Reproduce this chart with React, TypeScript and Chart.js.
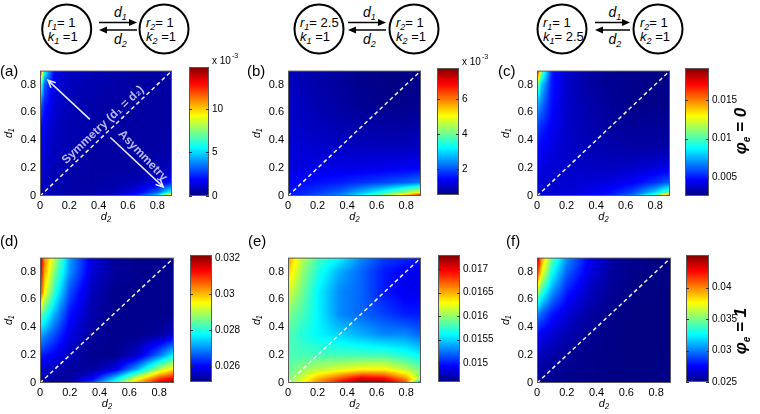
import React, { useEffect, useRef } from "react";
import { Chart, registerables } from "chart.js";

Chart.register(...registerables);

const FONT = '"Liberation Sans", Arial, Helvetica, sans-serif';

// ---------- grid coordinates (data space) ----------
const D2_GRID = [0, 0.03, 0.1, 0.2, 0.35, 0.5, 0.65, 0.8, 0.9]; // columns, left -> right
const D1_GRID = [0.9, 0.8, 0.65, 0.5, 0.35, 0.2, 0.1, 0.03, 0]; // rows, top -> bottom
const AXIS_TICKS = [0, 0.2, 0.4, 0.6, 0.8];
const DIAGONAL = [0, 0.9];

// ---------- values ----------
// (a) phi_e = 0, r1 = 1, k1 = 1   (x 10^-3)
const VALUES_A = [
  [14.2, 6.0, 1.6, 1.0, 0.8, 0.6, 0.5, 0.5, 0.5],
  [8.0, 3.2, 1.4, 0.9, 0.7, 0.6, 0.5, 0.5, 0.5],
  [3.5, 2.2, 1.2, 0.8, 0.6, 0.5, 0.5, 0.5, 0.5],
  [2.0, 1.6, 1.0, 0.7, 0.6, 0.5, 0.5, 0.5, 0.5],
  [1.5, 1.3, 0.9, 0.7, 0.5, 0.5, 0.5, 0.5, 0.6],
  [1.2, 1.1, 0.8, 0.6, 0.5, 0.5, 0.5, 0.7, 0.9],
  [1.0, 1.0, 0.7, 0.6, 0.5, 0.6, 0.8, 1.4, 2.2],
  [1.0, 0.9, 0.7, 0.6, 0.6, 0.8, 1.5, 3.2, 6.0],
  [1.0, 0.9, 0.7, 0.6, 0.7, 1.0, 2.2, 5.5, 12.5],
];
// (b) phi_e = 0, r1 = 2.5   (x 10^-3)
const VALUES_B = [
  [0.9, 0.9, 0.85, 0.8, 0.7, 0.6, 0.55, 0.55, 0.6],
  [0.95, 0.95, 0.9, 0.8, 0.7, 0.6, 0.55, 0.55, 0.6],
  [1.0, 1.0, 0.95, 0.85, 0.75, 0.65, 0.6, 0.6, 0.65],
  [1.05, 1.05, 1.0, 0.95, 0.85, 0.8, 0.75, 0.75, 0.8],
  [1.1, 1.1, 1.1, 1.05, 1.0, 0.95, 0.95, 0.95, 1.0],
  [1.2, 1.2, 1.2, 1.25, 1.25, 1.25, 1.3, 1.35, 1.4],
  [1.4, 1.4, 1.45, 1.5, 1.6, 1.75, 1.9, 2.1, 2.3],
  [1.5, 1.55, 1.65, 1.8, 2.1, 2.7, 3.4, 4.3, 5.0],
  [1.5, 1.6, 1.7, 2.0, 2.5, 3.4, 4.7, 6.3, 7.5],
];
// (c) phi_e = 0, k1 = 2.5
const VALUES_C = [
  [0.0185, 0.011, 0.005, 0.0038, 0.0032, 0.0029, 0.0028, 0.0027, 0.0027],
  [0.011, 0.008, 0.005, 0.0038, 0.0032, 0.0029, 0.0028, 0.0027, 0.0027],
  [0.0075, 0.0065, 0.0048, 0.0038, 0.0033, 0.003, 0.0028, 0.0028, 0.0028],
  [0.0058, 0.0053, 0.0045, 0.0038, 0.0034, 0.0031, 0.003, 0.003, 0.003],
  [0.0048, 0.0046, 0.0042, 0.0038, 0.0035, 0.0033, 0.0032, 0.0032, 0.0033],
  [0.0042, 0.0041, 0.004, 0.0038, 0.0037, 0.0037, 0.0038, 0.0041, 0.0044],
  [0.004, 0.004, 0.0039, 0.0039, 0.004, 0.0042, 0.0046, 0.0054, 0.0062],
  [0.0039, 0.0039, 0.0039, 0.004, 0.0043, 0.0048, 0.0058, 0.008, 0.0105],
  [0.0039, 0.0039, 0.0039, 0.0041, 0.0045, 0.0052, 0.0068, 0.011, 0.018],
];
// (d) phi_e = 1, r1 = 1, k1 = 1
const VALUES_D = [
  [0.032, 0.0304, 0.029, 0.0271, 0.0258, 0.0253, 0.0252, 0.0252, 0.0252],
  [0.0318, 0.0302, 0.0286, 0.027, 0.0257, 0.0253, 0.0252, 0.0252, 0.0252],
  [0.0312, 0.0296, 0.028, 0.0265, 0.0255, 0.0252, 0.0252, 0.0252, 0.0252],
  [0.0286, 0.0282, 0.0272, 0.0261, 0.0254, 0.0252, 0.0252, 0.0252, 0.0252],
  [0.0272, 0.027, 0.0265, 0.0258, 0.0253, 0.0252, 0.0252, 0.0253, 0.0256],
  [0.0262, 0.0261, 0.0259, 0.0255, 0.0252, 0.0252, 0.0256, 0.0268, 0.0278],
  [0.0257, 0.0256, 0.0255, 0.0253, 0.0253, 0.0258, 0.0272, 0.029, 0.0298],
  [0.0254, 0.0254, 0.0253, 0.0253, 0.026, 0.0275, 0.0295, 0.031, 0.0315],
  [0.0253, 0.0253, 0.0253, 0.0255, 0.0265, 0.0282, 0.0302, 0.0315, 0.0321],
];
// (e) phi_e = 1, r1 = 2.5
const VALUES_E = [
  [0.0166, 0.0164, 0.0161, 0.0158, 0.0156, 0.0153, 0.0151, 0.01505, 0.015],
  [0.0164, 0.0163, 0.016, 0.0157, 0.0154, 0.0152, 0.015, 0.0149, 0.0149],
  [0.0162, 0.0161, 0.0159, 0.0156, 0.0153, 0.0152, 0.015, 0.0149, 0.0149],
  [0.016, 0.0159, 0.0158, 0.0156, 0.0153, 0.0152, 0.0151, 0.015, 0.015],
  [0.0158, 0.0158, 0.0157, 0.0156, 0.0155, 0.0154, 0.0153, 0.0153, 0.0152],
  [0.0158, 0.0158, 0.0158, 0.0158, 0.0158, 0.0158, 0.0158, 0.0157, 0.0156],
  [0.0159, 0.0159, 0.016, 0.0161, 0.0162, 0.0163, 0.0163, 0.0161, 0.0159],
  [0.016, 0.016, 0.0162, 0.0165, 0.0168, 0.0171, 0.017, 0.0166, 0.016],
  [0.016, 0.0161, 0.0163, 0.0166, 0.017, 0.0173, 0.0173, 0.0168, 0.0148],
];
// (f) phi_e = 1, k1 = 2.5
const VALUES_F = [
  [0.0448, 0.04, 0.0345, 0.0305, 0.0275, 0.0258, 0.0253, 0.0251, 0.0251],
  [0.0425, 0.038, 0.033, 0.0295, 0.027, 0.0256, 0.0252, 0.0251, 0.0251],
  [0.036, 0.0335, 0.0305, 0.028, 0.0263, 0.0254, 0.0251, 0.025, 0.025],
  [0.0305, 0.0295, 0.028, 0.0268, 0.0257, 0.0252, 0.025, 0.025, 0.025],
  [0.0275, 0.0272, 0.0266, 0.026, 0.0254, 0.0251, 0.025, 0.025, 0.025],
  [0.0262, 0.0261, 0.0258, 0.0255, 0.0252, 0.0251, 0.025, 0.025, 0.0251],
  [0.0257, 0.0256, 0.0255, 0.0253, 0.0252, 0.0251, 0.025, 0.0251, 0.0252],
  [0.0255, 0.0255, 0.0254, 0.0253, 0.0252, 0.0251, 0.0251, 0.0252, 0.0253],
  [0.0255, 0.0255, 0.0254, 0.0253, 0.0252, 0.0251, 0.0251, 0.0252, 0.0253],
];

// ---------- colour bar ranges and ticks ----------
const RANGE_A = [0, 14.8];
const RANGE_B = [0.5, 7.8];
const RANGE_C = [0.0026, 0.0191];
const RANGE_D = [0.0251, 0.0322];
const RANGE_E = [0.0146, 0.0173];
const RANGE_F = [0.025, 0.0452];

const CB_TICKS_A = [0, 5, 10];
const CB_TICKS_B = [2, 4, 6];
const CB_TICKS_C = [0.005, 0.01, 0.015];
const CB_TICKS_D = [0.026, 0.028, 0.03, 0.032];
const CB_TICKS_E = [0.015, 0.0155, 0.016, 0.0165, 0.017];
const CB_TICKS_F = [0.025, 0.03, 0.035, 0.04];

const CB_LABELS_A = ["0", "5", "10"];
const CB_LABELS_B = ["2", "4", "6"];
const CB_LABELS_C = ["0.005", "0.01", "0.015"];
const CB_LABELS_D = ["0.026", "0.028", "0.03", "0.032"];
const CB_LABELS_E = ["0.015", "0.0155", "0.016", "0.0165", "0.017"];
const CB_LABELS_F = ["0.025", "0.03", "0.035", "0.04"];

// annotation geometry for panel (a), data coords: [tail, head]
const SYM_ARROW_D2 = [0.34, 0.055];
const SYM_ARROW_D1 = [0.55, 0.83];
const ASYM_ARROW_D2 = [0.48, 0.84];
const ASYM_ARROW_D1 = [0.42, 0.065];
const SYM_TEXT_AT = [0.43, 0.51];
const ASYM_TEXT_AT = [0.7, 0.29];

// ---------- layout ----------
const PLOT_H = 128;
const Y_AXIS_W = 40;
const X_AXIS_H = 28;
const PAD_T = 8;
const PAD_R = 4;
const CB_AXIS_W = 46;
const CB_PAD_T = 18;
const CB_PAD_B = 8;

type Panel = {
  values: number[][];
  range: number[];
  cbTicks: number[];
  cbLabels: string[];
  exp: boolean;
  annotate: boolean;
  plot: number[]; // x, y, w
  cb: number[]; // x, y, w, h
};

const PANELS: Panel[] = [
  { values: VALUES_A, range: RANGE_A, cbTicks: CB_TICKS_A, cbLabels: CB_LABELS_A, exp: true, annotate: true, plot: [40, 68, 132], cb: [189, 67, 20, 130] },
  { values: VALUES_B, range: RANGE_B, cbTicks: CB_TICKS_B, cbLabels: CB_LABELS_B, exp: true, annotate: false, plot: [288, 68, 133], cb: [437, 68, 22, 128] },
  { values: VALUES_C, range: RANGE_C, cbTicks: CB_TICKS_C, cbLabels: CB_LABELS_C, exp: false, annotate: false, plot: [537, 68, 133], cb: [685, 68, 24, 129] },
  { values: VALUES_D, range: RANGE_D, cbTicks: CB_TICKS_D, cbLabels: CB_LABELS_D, exp: false, annotate: false, plot: [40, 255, 134], cb: [190, 255, 22, 128] },
  { values: VALUES_E, range: RANGE_E, cbTicks: CB_TICKS_E, cbLabels: CB_LABELS_E, exp: false, annotate: false, plot: [288, 255, 133], cb: [438, 255, 22, 128] },
  { values: VALUES_F, range: RANGE_F, cbTicks: CB_TICKS_F, cbLabels: CB_LABELS_F, exp: false, annotate: false, plot: [537, 255, 134], cb: [686, 255, 23, 128] },
];

const PANEL_LETTERS = [
  { t: "(a)", x: 0, y: 63 },
  { t: "(b)", x: 247, y: 63 },
  { t: "(c)", x: 498, y: 63 },
  { t: "(d)", x: 0, y: 233 },
  { t: "(e)", x: 248, y: 233 },
  { t: "(f)", x: 506, y: 233 },
];

const DIAGRAMS = [
  { lc: 66.7, rc: 164, a0: 99, a1: 137, r1: "= 1", k1: " =1", r2: "= 1", k2: " =1" },
  { lc: 319, rc: 414, a0: 348, a1: 386, r1: "= 2.5", k1: " =1", r2: "= 1", k2: " =1" },
  { lc: 562, rc: 658, a0: 595, a1: 630, r1: "= 1", k1: "= 2.5", r2: "= 1", k2: " =1" },
];

// ---------- helpers ----------
const clamp = (v: number, a: number, b: number) => Math.max(a, Math.min(b, v));

function jet(t: number): number[] {
  t = clamp(t, 0, 1);
  const r = clamp(Math.min(4 * t - 1.5, -4 * t + 4.5), 0, 1);
  const g = clamp(Math.min(4 * t - 0.5, -4 * t + 3.5), 0, 1);
  const b = clamp(Math.min(4 * t + 0.5, -4 * t + 2.5), 0, 1);
  return [Math.round(r * 255), Math.round(g * 255), Math.round(b * 255)];
}

function sampleGrid(grid: number[][], x: number, y: number): number {
  let i = 0;
  while (i < D2_GRID.length - 2 && x > D2_GRID[i + 1]) i++;
  let j = 0;
  while (j < D1_GRID.length - 2 && y < D1_GRID[j + 1]) j++;
  const fx = clamp((x - D2_GRID[i]) / (D2_GRID[i + 1] - D2_GRID[i]), 0, 1);
  const fy = clamp((D1_GRID[j] - y) / (D1_GRID[j] - D1_GRID[j + 1]), 0, 1);
  const v00 = grid[j][i];
  const v01 = grid[j][i + 1];
  const v10 = grid[j + 1][i];
  const v11 = grid[j + 1][i + 1];
  return v00 * (1 - fx) * (1 - fy) + v01 * fx * (1 - fy) + v10 * (1 - fx) * fy + v11 * fx * fy;
}

function heatPlugin(p: Panel) {
  return {
    id: "heat",
    beforeDatasetsDraw(chart: any) {
      const { ctx, chartArea: a, scales } = chart;
      const w = Math.round(a.right - a.left);
      const h = Math.round(a.bottom - a.top);
      const off = document.createElement("canvas");
      off.width = w;
      off.height = h;
      const octx = off.getContext("2d")!;
      const img = octx.createImageData(w, h);
      const [mn, mx] = p.range;
      for (let py = 0; py < h; py++) {
        const d1 = scales.y.getValueForPixel(a.top + py + 0.5);
        for (let px = 0; px < w; px++) {
          const d2 = scales.x.getValueForPixel(a.left + px + 0.5);
          const v = sampleGrid(p.values, d2, d1);
          const c = jet((v - mn) / (mx - mn));
          const k = (py * w + px) * 4;
          img.data[k] = c[0];
          img.data[k + 1] = c[1];
          img.data[k + 2] = c[2];
          img.data[k + 3] = 255;
        }
      }
      octx.putImageData(img, 0, 0);
      ctx.drawImage(off, a.left, a.top, a.right - a.left, a.bottom - a.top);
    },
    afterDraw(chart: any) {
      const { ctx, chartArea: a } = chart;
      ctx.save();
      ctx.strokeStyle = "#5a5a5a";
      ctx.lineWidth = 1;
      ctx.strokeRect(a.left + 0.5, a.top + 0.5, a.right - a.left - 1, a.bottom - a.top - 1);
      ctx.restore();
    },
  };
}

function drawArrow(ctx: CanvasRenderingContext2D, x0: number, y0: number, x1: number, y1: number) {
  ctx.beginPath();
  ctx.moveTo(x0, y0);
  ctx.lineTo(x1, y1);
  const ang = Math.atan2(y1 - y0, x1 - x0);
  const L = 8;
  ctx.moveTo(x1 - L * Math.cos(ang - 0.45), y1 - L * Math.sin(ang - 0.45));
  ctx.lineTo(x1, y1);
  ctx.lineTo(x1 - L * Math.cos(ang + 0.45), y1 - L * Math.sin(ang + 0.45));
  ctx.stroke();
}

const annotPlugin = {
  id: "annot",
  afterDatasetsDraw(chart: any) {
    const { ctx, scales } = chart;
    const X = (v: number) => scales.x.getPixelForValue(v);
    const Y = (v: number) => scales.y.getPixelForValue(v);
    ctx.save();
    ctx.strokeStyle = "rgba(240,240,255,0.95)";
    ctx.lineWidth = 1.6;
    drawArrow(ctx, X(SYM_ARROW_D2[0]), Y(SYM_ARROW_D1[0]), X(SYM_ARROW_D2[1]), Y(SYM_ARROW_D1[1]));
    drawArrow(ctx, X(ASYM_ARROW_D2[0]), Y(ASYM_ARROW_D1[0]), X(ASYM_ARROW_D2[1]), Y(ASYM_ARROW_D1[1]));
    const ang = Math.atan2(Y(DIAGONAL[1]) - Y(DIAGONAL[0]), X(DIAGONAL[1]) - X(DIAGONAL[0]));
    ctx.fillStyle = "rgba(200,200,255,0.92)";
    ctx.font = `bold 12px ${FONT}`;
    ctx.textAlign = "center";
    ctx.textBaseline = "middle";
    ctx.save();
    ctx.translate(X(SYM_TEXT_AT[0]), Y(SYM_TEXT_AT[1]));
    ctx.rotate(ang);
    ctx.fillText("Symmetry (d\u2081 = d\u2082)", 0, 0);
    ctx.restore();
    ctx.save();
    ctx.translate(X(ASYM_TEXT_AT[0]), Y(ASYM_TEXT_AT[1]));
    ctx.rotate(ang + Math.PI / 2);
    ctx.fillText("Asymmetry", 0, 0);
    ctx.restore();
    ctx.restore();
  },
};

function makePanel(canvas: HTMLCanvasElement, p: Panel) {
  const plugins: any[] = [heatPlugin(p)];
  if (p.annotate) plugins.push(annotPlugin);
  const tickFont = { family: FONT, size: 11 };
  const titleFont = { family: FONT, size: 11, style: "italic" as const };
  return new Chart(canvas, {
    type: "scatter",
    data: {
      datasets: [
        {
          data: DIAGONAL.map((v) => ({ x: v, y: v })),
          showLine: true,
          borderColor: "rgba(255,255,255,0.95)",
          borderWidth: 1.5,
          borderDash: [4, 3],
          pointRadius: 0,
          fill: false,
        } as any,
      ],
    },
    options: {
      animation: false,
      responsive: false,
      devicePixelRatio: 1,
      events: [],
      layout: { padding: { left: 0, top: PAD_T, right: PAD_R, bottom: 0 } },
      plugins: { legend: { display: false }, tooltip: { enabled: false } },
      scales: {
        x: {
          type: "linear",
          min: 0,
          max: 0.9,
          afterBuildTicks: (s: any) => {
            s.ticks = AXIS_TICKS.map((value) => ({ value }));
          },
          afterFit: (s: any) => {
            s.height = X_AXIS_H;
          },
          grid: { display: false, drawTicks: false },
          border: { display: false },
          ticks: { autoSkip: false, maxRotation: 0, padding: 3, color: "#000", font: tickFont, callback: (v: any) => String(v) },
          title: { display: true, text: "d\u2082", color: "#000", font: titleFont, padding: { top: 0, bottom: 0 } },
        },
        y: {
          type: "linear",
          min: 0,
          max: 0.9,
          afterBuildTicks: (s: any) => {
            s.ticks = AXIS_TICKS.map((value) => ({ value }));
          },
          afterFit: (s: any) => {
            s.width = Y_AXIS_W;
          },
          grid: { display: false, drawTicks: false },
          border: { display: false },
          ticks: { autoSkip: false, padding: 4, color: "#000", font: tickFont, callback: (v: any) => String(v) },
          title: { display: true, text: "d\u2081", color: "#000", font: titleFont, padding: { top: 2, bottom: 0 } },
        },
      } as any,
    },
    plugins,
  });
}

function colorbarPlugin(p: Panel) {
  return {
    id: "cbar",
    beforeDatasetsDraw(chart: any) {
      const { ctx, chartArea: a, scales } = chart;
      const [mn, mx] = p.range;
      for (let py = Math.round(a.top); py < Math.round(a.bottom); py++) {
        const v = scales.y.getValueForPixel(py + 0.5);
        const c = jet((v - mn) / (mx - mn));
        ctx.fillStyle = `rgb(${c[0]},${c[1]},${c[2]})`;
        ctx.fillRect(a.left, py, a.right - a.left, 1);
      }
    },
    afterDraw(chart: any) {
      const { ctx, chartArea: a, scales } = chart;
      ctx.save();
      ctx.strokeStyle = "#5a5a5a";
      ctx.lineWidth = 1;
      ctx.strokeRect(a.left + 0.5, a.top + 0.5, a.right - a.left - 1, a.bottom - a.top - 1);
      ctx.strokeStyle = "#333";
      ctx.beginPath();
      p.cbTicks.forEach((t) => {
        const y = Math.round(scales.y.getPixelForValue(t)) + 0.5;
        ctx.moveTo(a.right - 3, y);
        ctx.lineTo(a.right, y);
        ctx.moveTo(a.left, y);
        ctx.lineTo(a.left + 3, y);
      });
      ctx.stroke();
      if (p.exp) {
        ctx.fillStyle = "#000";
        ctx.textAlign = "left";
        ctx.textBaseline = "alphabetic";
        ctx.font = `10px ${FONT}`;
        const base = "x 10";
        ctx.fillText(base, a.right + 3, a.top - 3);
        const w = ctx.measureText(base).width;
        ctx.font = `7px ${FONT}`;
        ctx.fillText("-3", a.right + 3 + w + 1, a.top - 9);
      }
      ctx.restore();
    },
  };
}

function makeColorbar(canvas: HTMLCanvasElement, p: Panel) {
  return new Chart(canvas, {
    type: "scatter",
    data: { datasets: [] },
    options: {
      animation: false,
      responsive: false,
      devicePixelRatio: 1,
      events: [],
      layout: { padding: { left: 0, top: CB_PAD_T, right: 0, bottom: CB_PAD_B } },
      plugins: { legend: { display: false }, tooltip: { enabled: false } },
      scales: {
        x: { type: "linear", display: false, min: 0, max: 1 },
        y: {
          type: "linear",
          position: "right",
          min: p.range[0],
          max: p.range[1],
          afterBuildTicks: (s: any) => {
            s.ticks = p.cbTicks.map((value) => ({ value }));
          },
          afterFit: (s: any) => {
            s.width = CB_AXIS_W;
          },
          grid: { display: false, drawTicks: false },
          border: { display: false },
          ticks: {
            autoSkip: false,
            padding: 3,
            color: "#000",
            font: { family: FONT, size: 10 },
            callback: (_v: any, i: number) => p.cbLabels[i],
          },
        },
      } as any,
    },
    plugins: [colorbarPlugin(p)],
  });
}

function NodeText({ x, y, sym, idx, rest }: { x: number; y: number; sym: string; idx: string; rest: string }) {
  return (
    <text x={x} y={y} fontSize={13} fontFamily={FONT} style={{ whiteSpace: "pre" }}>
      <tspan fontStyle="italic">{sym}</tspan>
      <tspan fontStyle="italic" fontSize={9} dy={3}>
        {idx}
      </tspan>
      <tspan dy={-3}>{rest}</tspan>
    </text>
  );
}

function Diagram({ d }: { d: (typeof DIAGRAMS)[number] }) {
  const cy = 29;
  const R = 24.5;
  const yTop = 22.5;
  const yBot = 30;
  return (
    <g>
      <circle cx={d.lc} cy={cy} r={R} fill="none" stroke="#000" strokeWidth={2} />
      <circle cx={d.rc} cy={cy} r={R} fill="none" stroke="#000" strokeWidth={2} />
      <NodeText x={d.lc - 19} y={27} sym="r" idx="1" rest={d.r1} />
      <NodeText x={d.lc - 19} y={41} sym="k" idx="1" rest={d.k1} />
      <NodeText x={d.rc - 18} y={27} sym="r" idx="2" rest={d.r2} />
      <NodeText x={d.rc - 18} y={41} sym="k" idx="2" rest={d.k2} />
      <line x1={d.a0} y1={yTop} x2={d.a1 - 6} y2={yTop} stroke="#000" strokeWidth={1.5} />
      <polygon points={`${d.a1},${yTop} ${d.a1 - 8},${yTop - 3.5} ${d.a1 - 8},${yTop + 3.5}`} fill="#000" />
      <line x1={d.a0 + 6} y1={yBot} x2={d.a1} y2={yBot} stroke="#000" strokeWidth={1.5} />
      <polygon points={`${d.a0},${yBot} ${d.a0 + 8},${yBot - 3.5} ${d.a0 + 8},${yBot + 3.5}`} fill="#000" />
      <text x={(d.a0 + d.a1) / 2 - 4} y={17} fontSize={14} fontFamily={FONT} fontStyle="italic">
        d
        <tspan fontSize={9} dy={3}>
          1
        </tspan>
      </text>
      <text x={(d.a0 + d.a1) / 2 - 4} y={44} fontSize={14} fontFamily={FONT} fontStyle="italic">
        d
        <tspan fontSize={9} dy={3}>
          2
        </tspan>
      </text>
    </g>
  );
}

export default function App() {
  const panelRefs = useRef<(HTMLCanvasElement | null)[]>([]);
  const cbRefs = useRef<(HTMLCanvasElement | null)[]>([]);

  useEffect(() => {
    const charts: Chart[] = [];
    PANELS.forEach((p, i) => {
      const pc = panelRefs.current[i];
      const cc = cbRefs.current[i];
      if (pc) charts.push(makePanel(pc, p));
      if (cc) charts.push(makeColorbar(cc, p));
    });
    return () => charts.forEach((c) => c.destroy());
  }, []);

  return (
    <div
      style={{
        position: "absolute",
        left: 0,
        top: 0,
        width: 760,
        height: 414,
        background: "#fff",
        fontFamily: FONT,
        overflow: "hidden",
      }}
    >
      <svg width={760} height={60} style={{ position: "absolute", left: 0, top: 0 }}>
        {DIAGRAMS.map((d, i) => (
          <Diagram key={i} d={d} />
        ))}
      </svg>
      {PANELS.map((p, i) => {
        const [px, py, pw] = p.plot;
        const cw = Y_AXIS_W + pw + PAD_R;
        const ch = PAD_T + PLOT_H + X_AXIS_H;
        const [bx, by, bw, bh] = p.cb;
        const bcw = bw + CB_AXIS_W;
        const bch = CB_PAD_T + bh + CB_PAD_B;
        return (
          <React.Fragment key={i}>
            <canvas
              ref={(el) => {
                panelRefs.current[i] = el;
              }}
              width={cw}
              height={ch}
              style={{ position: "absolute", left: px - Y_AXIS_W, top: py - PAD_T, width: cw, height: ch }}
            />
            <canvas
              ref={(el) => {
                cbRefs.current[i] = el;
              }}
              width={bcw}
              height={bch}
              style={{ position: "absolute", left: bx, top: by - CB_PAD_T, width: bcw, height: bch }}
            />
          </React.Fragment>
        );
      })}
      {PANEL_LETTERS.map((l) => (
        <div key={l.t} style={{ position: "absolute", left: l.x, top: l.y, fontSize: 15, lineHeight: "16px", color: "#000" }}>
          {l.t}
        </div>
      ))}
      {["0", "1"].map((v, i) => (
        <div
          key={v}
          style={{
            position: "absolute",
            left: 742,
            top: i === 0 ? 131 : 331,
            transform: "translate(-50%, -50%) rotate(-90deg)",
            fontWeight: "bold",
            fontStyle: "italic",
            fontSize: 17,
            lineHeight: "20px",
            whiteSpace: "nowrap",
            color: "#000",
          }}
        >
          φ<span style={{ fontSize: 10, position: "relative", top: 4 }}>e</span> = {v}
        </div>
      ))}
    </div>
  );
}
